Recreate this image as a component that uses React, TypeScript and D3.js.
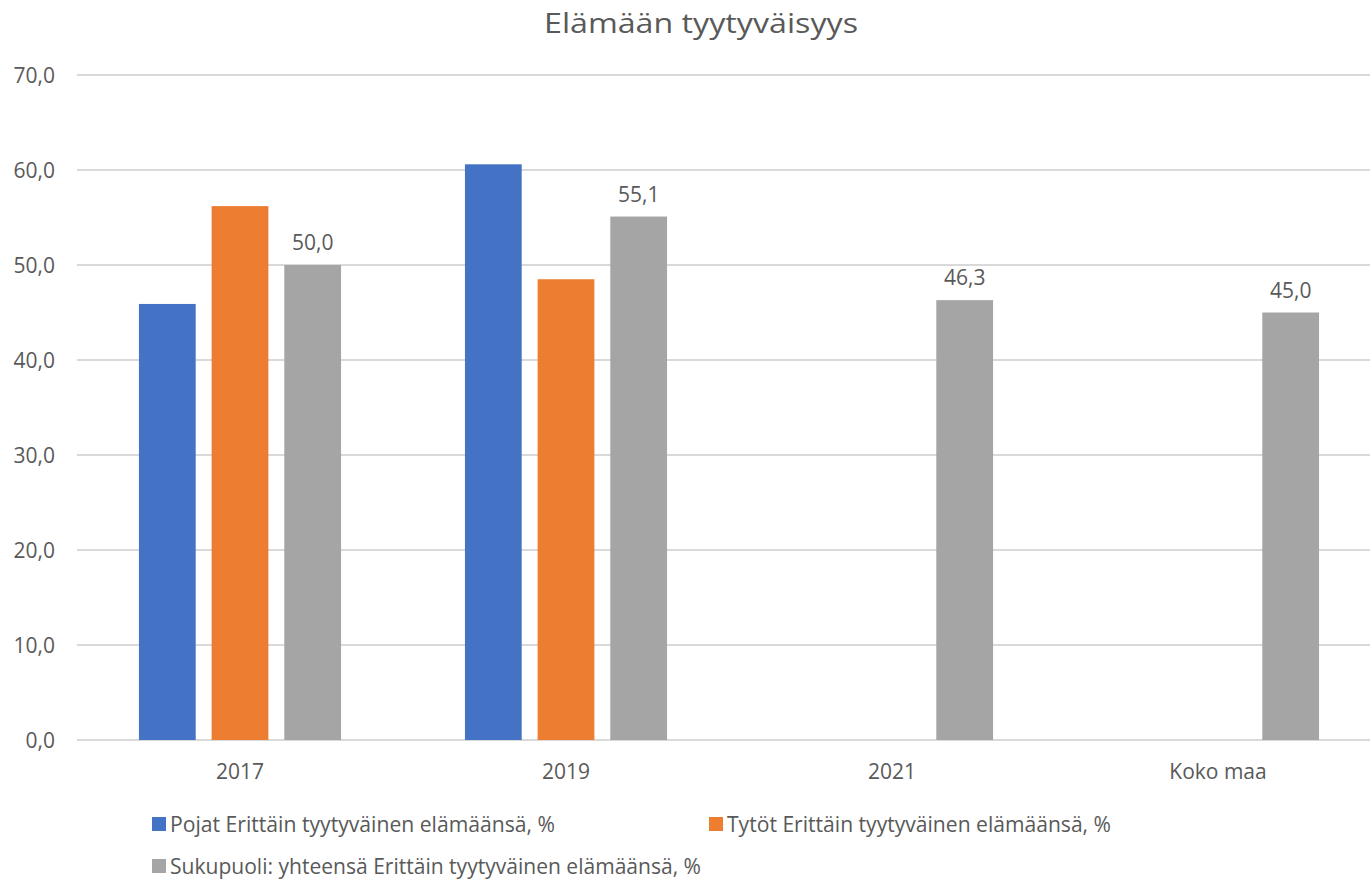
import React from "react";
import * as d3 from "d3";

const title = "Elämään tyytyväisyys";
const categories = ["2017", "2019", "2021", "Koko maa"];
const seriesNames = [
  "Pojat Erittäin tyytyväinen elämäänsä, %",
  "Tytöt Erittäin tyytyväinen elämäänsä, %",
  "Sukupuoli: yhteensä Erittäin tyytyväinen elämäänsä, %",
];
const pojat: (number | null)[] = [45.9, 60.6, null, null];
const tytot: (number | null)[] = [56.2, 48.5, null, null];
const yhteensa: (number | null)[] = [50.0, 55.1, 46.3, 45.0];
const seriesValues = [pojat, tytot, yhteensa];
const seriesColors = ["#4472C4", "#ED7D31", "#A5A5A5"];
const labeledSeries = [false, false, true];
const yTicks = [0, 10, 20, 30, 40, 50, 60, 70];

const W = 1370;
const H = 881;
const FONT = "'Open Sans', 'Noto Sans', sans-serif";
const TEXT = "#595959";

export default function App() {
  const x0 = d3
    .scaleBand<string>()
    .domain(categories)
    .range([77, 1381])
    .paddingInner(0.38)
    .paddingOuter(0.19);
  const x1 = d3
    .scaleBand<number>()
    .domain([0, 1, 2])
    .range([0, x0.bandwidth()])
    .paddingInner(0.219)
    .paddingOuter(0);
  const y = d3.scaleLinear().domain([0, 70]).range([740, 75]);
  const fmt = (v: number) => v.toFixed(1).replace(".", ",");

  const legend = [
    { i: 0, x: 152, y: 824, len: 385 },
    { i: 1, x: 709, y: 824, len: 384 },
    { i: 2, x: 152, y: 866, len: 531 },
  ];

  return (
    <svg
      width={W}
      height={H}
      style={{ position: "absolute", left: 0, top: 0, background: "#fff" }}
      fontFamily={FONT}
    >
      <rect x={0} y={0} width={W} height={H} fill="#fff" />
      <text
        x={701}
        y={22}
        textAnchor="middle"
        dominantBaseline="central"
        fontSize={28}
        fill={TEXT}
        textLength={314}
        lengthAdjust="spacingAndGlyphs"
      >
        {title}
      </text>
      {yTicks.map((t) => (
        <g key={t}>
          <line x1={77} x2={1381} y1={y(t)} y2={y(t)} stroke="#D9D9D9" strokeWidth={2} />
          <text
            x={55}
            y={y(t)}
            textAnchor="end"
            dominantBaseline="central"
            fontSize={21}
            fill={TEXT}
          >
            {fmt(t)}
          </text>
        </g>
      ))}
      {categories.map((c, ci) => (
        <g key={c} transform={`translate(${x0(c)},0)`}>
          {seriesValues.map((vals, si) => {
            const v = vals[ci];
            if (v == null) return null;
            const bx = x1(si)!;
            return (
              <g key={si}>
                <rect
                  x={bx}
                  y={y(v)}
                  width={x1.bandwidth()}
                  height={y(0) - y(v)}
                  fill={seriesColors[si]}
                />
                {labeledSeries[si] && (
                  <text
                    x={bx + x1.bandwidth() / 2}
                    y={y(v) - 23}
                    textAnchor="middle"
                    dominantBaseline="central"
                    fontSize={21}
                    fill={TEXT}
                  >
                    {fmt(v)}
                  </text>
                )}
              </g>
            );
          })}
          <text
            x={x0.bandwidth() / 2}
            y={771}
            textAnchor="middle"
            dominantBaseline="central"
            fontSize={21}
            fill={TEXT}
          >
            {c}
          </text>
        </g>
      ))}
      {legend.map((l) => (
        <g key={l.i}>
          <rect x={l.x} y={l.y - 7} width={14} height={14} fill={seriesColors[l.i]} />
          <text
            x={l.x + 18}
            y={l.y}
            dominantBaseline="central"
            fontSize={21}
            fill={TEXT}
            textLength={l.len}
            lengthAdjust="spacingAndGlyphs"
          >
            {seriesNames[l.i]}
          </text>
        </g>
      ))}
    </svg>
  );
}
